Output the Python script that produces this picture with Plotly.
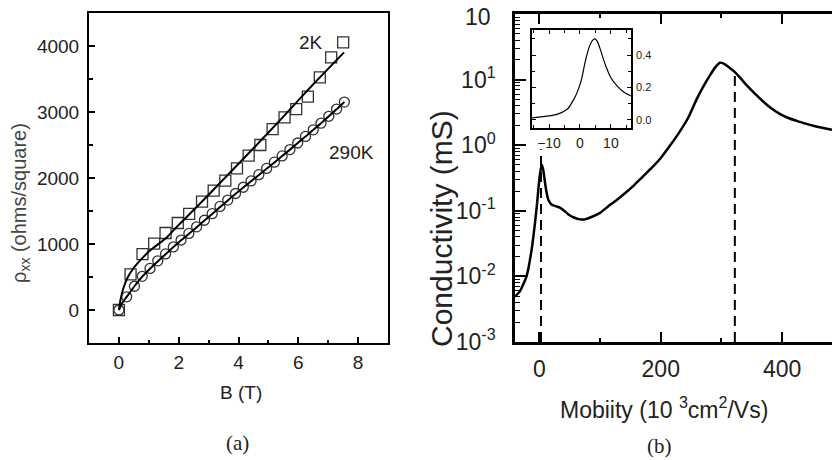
import plotly.graph_objects as go

W, H = 832, 460
def px(x):
    return x / W
def py(y):
    return 1 - y / H

# ---------------- panel (a) data ----------------
b_2k = [0, 0.39, 0.79, 1.18, 1.56, 1.97, 2.35, 2.78, 3.17, 3.56, 3.95, 4.34, 4.73, 5.14,
        5.54, 5.93, 6.32, 6.72, 7.10, 7.50]
rho_2k = [0, 541, 848, 1005, 1167, 1318, 1455, 1641, 1808, 1960, 2147, 2338, 2500, 2742,
          2920, 3045, 3232, 3526, 3829, 4056]

b_290k = [0, 0.26, 0.52, 0.78, 1.04, 1.30, 1.56, 1.82, 2.08, 2.34, 2.60, 2.86, 3.12, 3.38,
          3.64, 3.90, 4.16, 4.42, 4.68, 4.94, 5.20, 5.46, 5.72, 5.98, 6.24, 6.50, 6.76,
          7.02, 7.28, 7.54]
rho_290k = [0, 200, 360, 510, 630, 745, 850, 955, 1060, 1160, 1260, 1360, 1460, 1570,
            1665, 1765, 1860, 1955, 2050, 2145, 2240, 2335, 2430, 2530, 2630, 2730, 2830,
            2935, 3045, 3150]

fit_b_2k = [0, 0.05, 0.15, 0.3, 0.5, 0.75, 1.04, 1.6, 2.0, 2.6, 3.5, 4.5, 5.5, 6.5, 7.53]
fit_rho_2k = [0, 150, 330, 500, 640, 770, 900, 1100, 1290, 1560, 1980, 2450, 2930, 3420, 3904]

fit_b_290k = [0, 0.1, 0.26, 0.52, 0.78, 1.04, 1.56, 2.08, 2.6, 3.12, 3.64, 4.16, 4.68, 5.2,
              5.72, 6.24, 6.76, 7.28, 7.54]
fit_rho_290k = [0, 100, 200, 360, 505, 625, 845, 1055, 1255, 1455, 1660, 1855, 2045, 2235,
                2430, 2630, 2830, 3040, 3150]

# ---------------- panel (b) data ----------------
mobility = [-40, -32, -21, -12.5, -7, -4, -1.6, 1, 4, 6.5, 9.4, 12, 14.9, 20, 27, 34, 41,
            48, 57, 67, 75, 84, 100, 114, 127, 141, 155, 170, 185, 199, 215, 231, 245,
            259, 270, 281, 290, 297.5, 303, 309, 315, 322, 331, 341, 355, 369, 382, 396,
            410, 424, 437, 451, 466, 482]
conductivity = [0.0049, 0.0059, 0.0100, 0.026, 0.066, 0.12, 0.21, 0.36, 0.51, 0.42, 0.27,
                0.19, 0.148, 0.125, 0.118, 0.112, 0.100, 0.088, 0.079, 0.074, 0.074, 0.079,
                0.093, 0.118, 0.145, 0.185, 0.24, 0.33, 0.45, 0.62, 0.98, 1.6, 2.6, 5.0,
                7.8, 11.6, 15.5, 18.1, 17.7, 16.3, 14.7, 13.0, 10.6, 8.3, 6.1, 4.6, 3.65,
                3.0, 2.6, 2.35, 2.15, 1.98, 1.84, 1.72]
peak_mobility = [2.8, 322]
peak_conductivity = [0.87, 13.0]

inset_mobility = [-15.5, -12, -9, -7, -5, -3.8, -2.5, -1.5, -0.5, 0.5, 1.6, 2.5, 3.2, 4,
                  4.8, 5.6, 6.5, 7.5, 8.6, 10, 11.3, 13, 14.5, 16.5]
inset_conductivity = [0.012, 0.02, 0.028, 0.037, 0.055, 0.072, 0.11, 0.145, 0.19, 0.25,
                      0.35, 0.42, 0.46, 0.49, 0.50, 0.485, 0.44, 0.38, 0.32, 0.26, 0.225,
                      0.19, 0.168, 0.148]

y2_tickvals = [1e-3, 1e-2, 1e-1, 1e0, 1e1]
y2_ticktext = ["10<sup>-3</sup>", "10<sup>-2</sup>", "10<sup>-1</sup>", "10<sup>0</sup>",
               "10<sup>1</sup>"]
y2_minor_vals = [m * 10.0 ** e for e in range(-3, 2) for m in range(2, 10)]

SANS = "Liberation Sans"
SERIF = "Liberation Serif"
INK = "#222"

fig = go.Figure()

# panel (a)
fig.add_trace(go.Scatter(x=b_2k, y=rho_2k, mode="markers", xaxis="x", yaxis="y",
                         marker=dict(symbol="square-open", size=11, color="#333",
                                     line=dict(width=1.3, color="#333"))))
fig.add_trace(go.Scatter(x=b_290k, y=rho_290k, mode="markers", xaxis="x", yaxis="y",
                         marker=dict(symbol="circle-open", size=10, color="#333",
                                     line=dict(width=1.3, color="#333"))))
fig.add_trace(go.Scatter(x=fit_b_2k, y=fit_rho_2k, mode="lines", xaxis="x", yaxis="y",
                         line=dict(color="black", width=2, shape="spline", smoothing=0.6)))
fig.add_trace(go.Scatter(x=fit_b_290k, y=fit_rho_290k, mode="lines", xaxis="x", yaxis="y",
                         line=dict(color="black", width=2, shape="spline", smoothing=0.6)))

# panel (b)
for i in range(len(peak_mobility)):
    fig.add_trace(go.Scatter(x=[peak_mobility[i], peak_mobility[i]],
                             y=[1e-3, peak_conductivity[i]], mode="lines",
                             xaxis="x2", yaxis="y2",
                             line=dict(color="black", width=2, dash="10px,6px")))
fig.add_trace(go.Scatter(x=mobility, y=conductivity, mode="lines", xaxis="x2", yaxis="y2",
                         line=dict(color="black", width=2.5, shape="spline", smoothing=0.5)))
fig.add_trace(go.Scatter(x=inset_mobility, y=inset_conductivity, mode="lines",
                         xaxis="x3", yaxis="y3",
                         line=dict(color="black", width=1.2, shape="spline", smoothing=0.6)))

common = dict(showgrid=False, zeroline=False, showline=True, linecolor="black",
              tickcolor="black", automargin=False)

fig.update_layout(
    template="none",
    width=W, height=H, margin=dict(l=0, r=0, t=0, b=0, pad=0, autoexpand=False),
    paper_bgcolor="white", plot_bgcolor="white", showlegend=False,
    xaxis=dict(common, domain=[px(89), px(388)], range=[-1, 9], anchor="y",
               linewidth=2, mirror=True, ticks="inside", ticklen=6, tickwidth=1.5,
               tick0=0, dtick=2,
               minor=dict(dtick=1, ticks="inside", ticklen=3.5, tickwidth=1.5,
                          tickcolor="black"),
               tickfont=dict(family=SANS, size=19, color=INK), ticklabelstandoff=1),
    yaxis=dict(common, domain=[py(343), py(13)], range=[-500, 4500], anchor="x",
               linewidth=2, mirror=True, ticks="inside", ticklen=6, tickwidth=1.5,
               tick0=0, dtick=1000,
               minor=dict(dtick=500, ticks="inside", ticklen=3.5, tickwidth=1.5,
                          tickcolor="black"),
               tickfont=dict(family=SANS, size=19, color=INK), ticklabelstandoff=4),
    xaxis2=dict(common, domain=[px(515), 1.0], range=[-40, 482], anchor="y2",
                linewidth=2.5, mirror="ticks", ticks="inside", ticklen=10, tickwidth=2,
                tick0=0, dtick=200,
                minor=dict(dtick=100, ticks="inside", ticklen=4, tickwidth=1.5,
                           tickcolor="black"),
                tickfont=dict(family=SANS, size=23, color=INK), ticklabelstandoff=5),
    yaxis2=dict(common, type="log", domain=[py(342), py(14)], range=[-3, 2], anchor="x2",
                linewidth=2.5, mirror=False, ticks="inside", ticklen=11, tickwidth=2,
                tickmode="array", tickvals=y2_tickvals, ticktext=y2_ticktext,
                minor=dict(tickmode="array", tickvals=y2_minor_vals, ticks="inside",
                           ticklen=5, tickwidth=1, tickcolor="black"),
                tickfont=dict(family=SANS, size=23, color=INK), ticklabelstandoff=12),
    xaxis3=dict(common, domain=[px(532), px(631)], range=[-15.5, 16.5], anchor="y3",
                linewidth=1.8, mirror="ticks", ticks="inside", ticklen=4, tickwidth=1.2,
                tick0=0, dtick=10,
                minor=dict(dtick=5, ticks="inside", ticklen=3, tickwidth=1,
                           tickcolor="black"),
                tickfont=dict(family=SANS, size=14, color=INK), ticklabelstandoff=1),
    yaxis3=dict(common, domain=[py(128), py(30)], range=[-0.05, 0.555], anchor="x3",
                side="right", linewidth=1.8, mirror="ticks", ticks="inside", ticklen=4,
                tickwidth=1.2, tick0=0, dtick=0.2, tickformat=".1f",
                minor=dict(dtick=0.1, ticks="inside", ticklen=3, tickwidth=1,
                           tickcolor="black"),
                tickfont=dict(family=SANS, size=11, color=INK), ticklabelstandoff=1),
)

def note(text, x, y, size, family=SANS, color=INK, angle=0, ref="paper"):
    return dict(text=text, x=x, y=y, xref=ref if ref != "paper" else "paper",
                yref=ref.replace("x", "y") if ref != "paper" else "paper",
                xanchor="center", yanchor="middle", showarrow=False, textangle=angle,
                font=dict(family=family, size=size, color=color))

ann = [
    note("2K", 6.41, 4060, 19, ref="x"),
    note("290K", 7.77, 2380, 19, ref="x"),
    note("B (T)", px(241), py(392), 19),
    note("\u03c1<sub>xx</sub> (ohms/square)", px(20), py(203), 20, color="#444", angle=-90),
    note("(a)", px(237), py(443), 21, family=SERIF),
    note("10", px(478), py(17), 23),
    note("Conductivity (mS)", px(441), py(228), 30, angle=-90),
    note("Mobiity (10 <sup>3</sup>cm<sup>2</sup>/Vs)", px(664), py(408), 23),
    note("(b)", px(659), py(446), 21, family=SERIF),
]
fig.update_layout(annotations=ann)

fig.write_html("out.html", config={"displayModeBar": False},
               post_script="document.body.style.margin='0';document.body.style.overflow='hidden';")
